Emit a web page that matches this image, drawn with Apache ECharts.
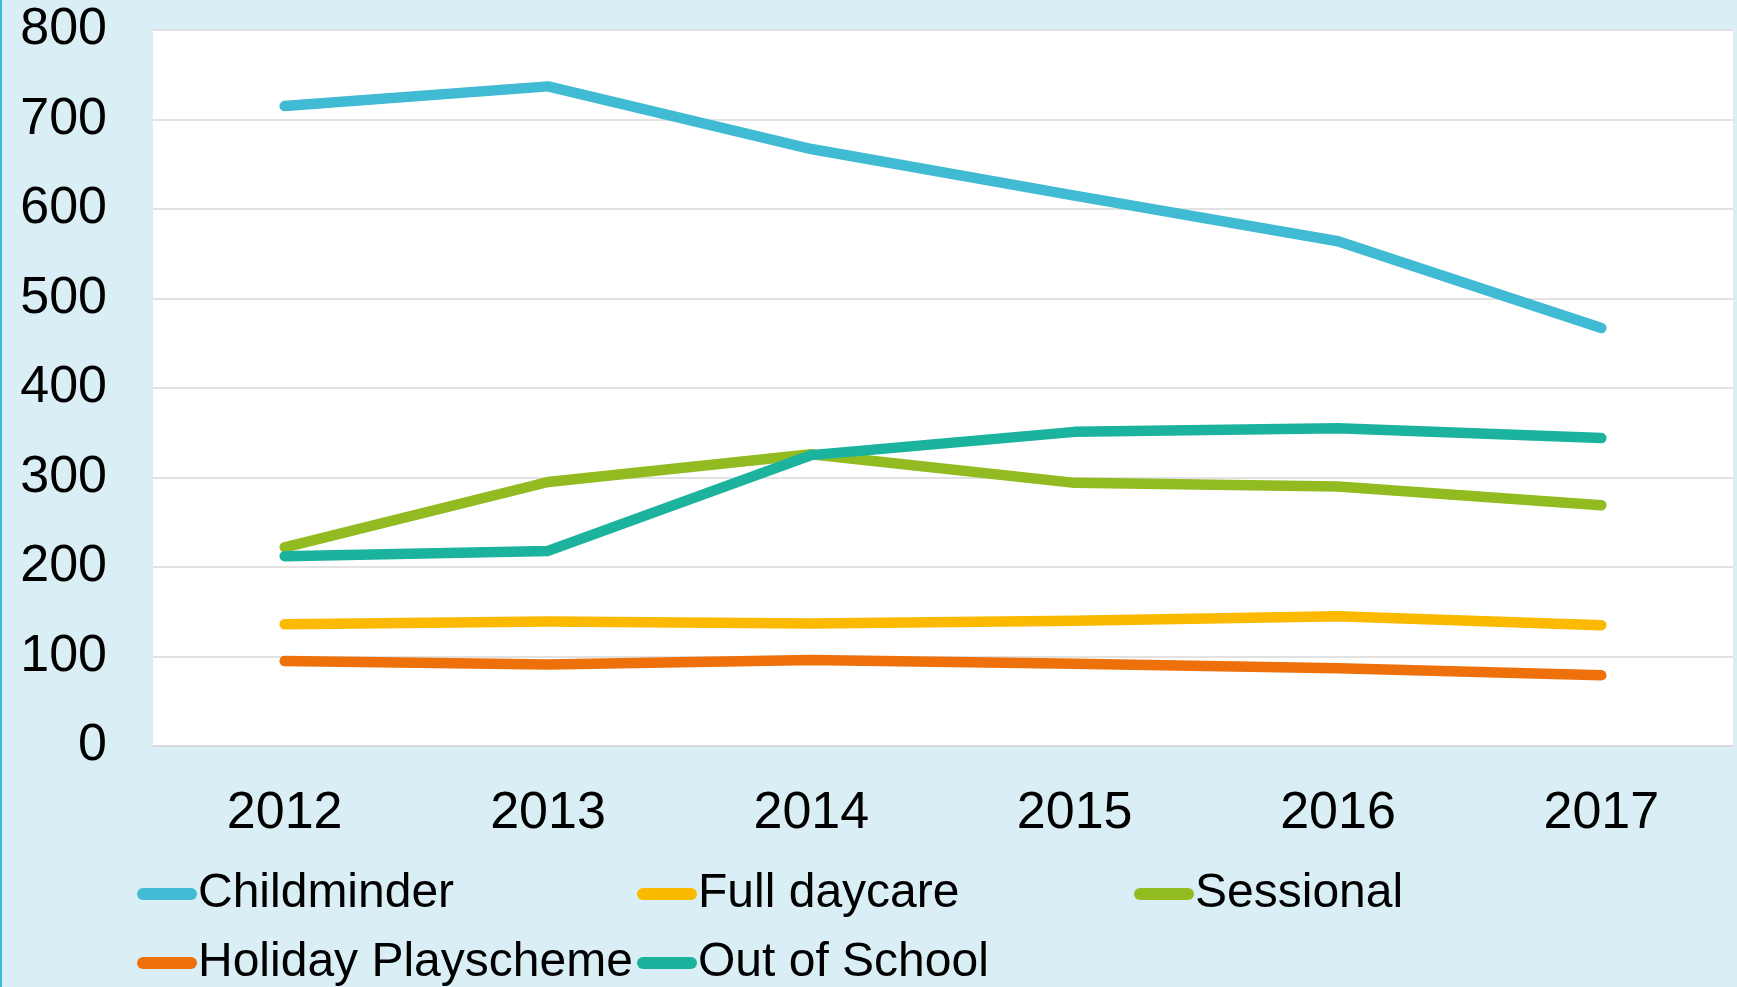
<!DOCTYPE html>
<html>
<head>
<meta charset="utf-8">
<script src="https://cdn.jsdelivr.net/npm/echarts@6/dist/echarts.min.js"></script>
<style>
  html, body { margin: 0; padding: 0; background: #daeff5; }
  #main { width: 1737px; height: 987px; }
</style>
</head>
<body>
<div id="main"></div>
<script>
// data
var years = ['2012', '2013', '2014', '2015', '2016', '2017'];
var childminder = [715, 737, 667, 615, 564, 467];
var fullDaycare = [136, 139, 137, 140, 145, 135];
var sessional = [222, 295, 326, 294, 290, 269];
var holidayPlayscheme = [95, 91, 96, 92, 87, 79];
var outOfSchool = [212, 218, 325, 351, 355, 344];
var yTicks = [0, 800, 100]; // min, max, step

var font = 'Liberation Sans, Arial, sans-serif';
var capsule = 'path://M6,0H54A6,6,0,0,1,54,12H6A6,6,0,0,1,6,0Z';

function mkLegend(name, left, top) {
    return {
        data: [name],
        left: left,
        top: top,
        padding: 0,
        icon: capsule,
        itemWidth: 60,
        itemHeight: 12,
        textStyle: { fontFamily: font, fontSize: 48, color: '#000', lineHeight: 56, padding: [0, 0, 0, -4] }
    };
}

function mkLine(name, data, color) {
    return {
        name: name,
        type: 'line',
        data: data,
        showSymbol: false,
        symbol: 'none',
        color: color,
        lineStyle: { width: 10.5, color: color, cap: 'round', join: 'round' }
    };
}

var chart = echarts.init(document.getElementById('main'));
chart.setOption({
    backgroundColor: '#daeff5',
    animation: false,
    graphic: [
        { type: 'rect', left: 0, top: 0, shape: { width: 2, height: 987 }, style: { fill: '#41bad3' } }
    ],
    grid: {
        left: 153, right: 4, top: 30, bottom: 241,
        show: true, backgroundColor: '#ffffff', borderWidth: 0
    },
    legend: [
        mkLegend('Childminder', 137, 866),
        mkLegend('Full daycare', 637, 866),
        mkLegend('Sessional', 1134, 866),
        mkLegend('Holiday Playscheme', 137, 935),
        mkLegend('Out of School', 637, 935)
    ],
    xAxis: {
        type: 'category',
        data: years,
        boundaryGap: true,
        axisLine: { lineStyle: { color: '#d9d9d9', width: 2 } },
        axisTick: { show: false },
        axisLabel: { fontFamily: font, fontSize: 52, color: '#000', margin: 42 }
    },
    yAxis: {
        type: 'value',
        min: yTicks[0],
        max: yTicks[1],
        interval: yTicks[2],
        axisLine: { show: false },
        axisTick: { show: false },
        splitLine: { lineStyle: { color: '#d9d9d9', width: 1.5 } },
        axisLabel: { fontFamily: font, fontSize: 52, color: '#000', margin: 46 }
    },
    series: [
        mkLine('Childminder', childminder, '#41bad3'),
        mkLine('Full daycare', fullDaycare, '#fbb900'),
        mkLine('Sessional', sessional, '#92bb22'),
        mkLine('Holiday Playscheme', holidayPlayscheme, '#ed700a'),
        mkLine('Out of School', outOfSchool, '#1bb39d')
    ]
});
</script>
</body>
</html>
